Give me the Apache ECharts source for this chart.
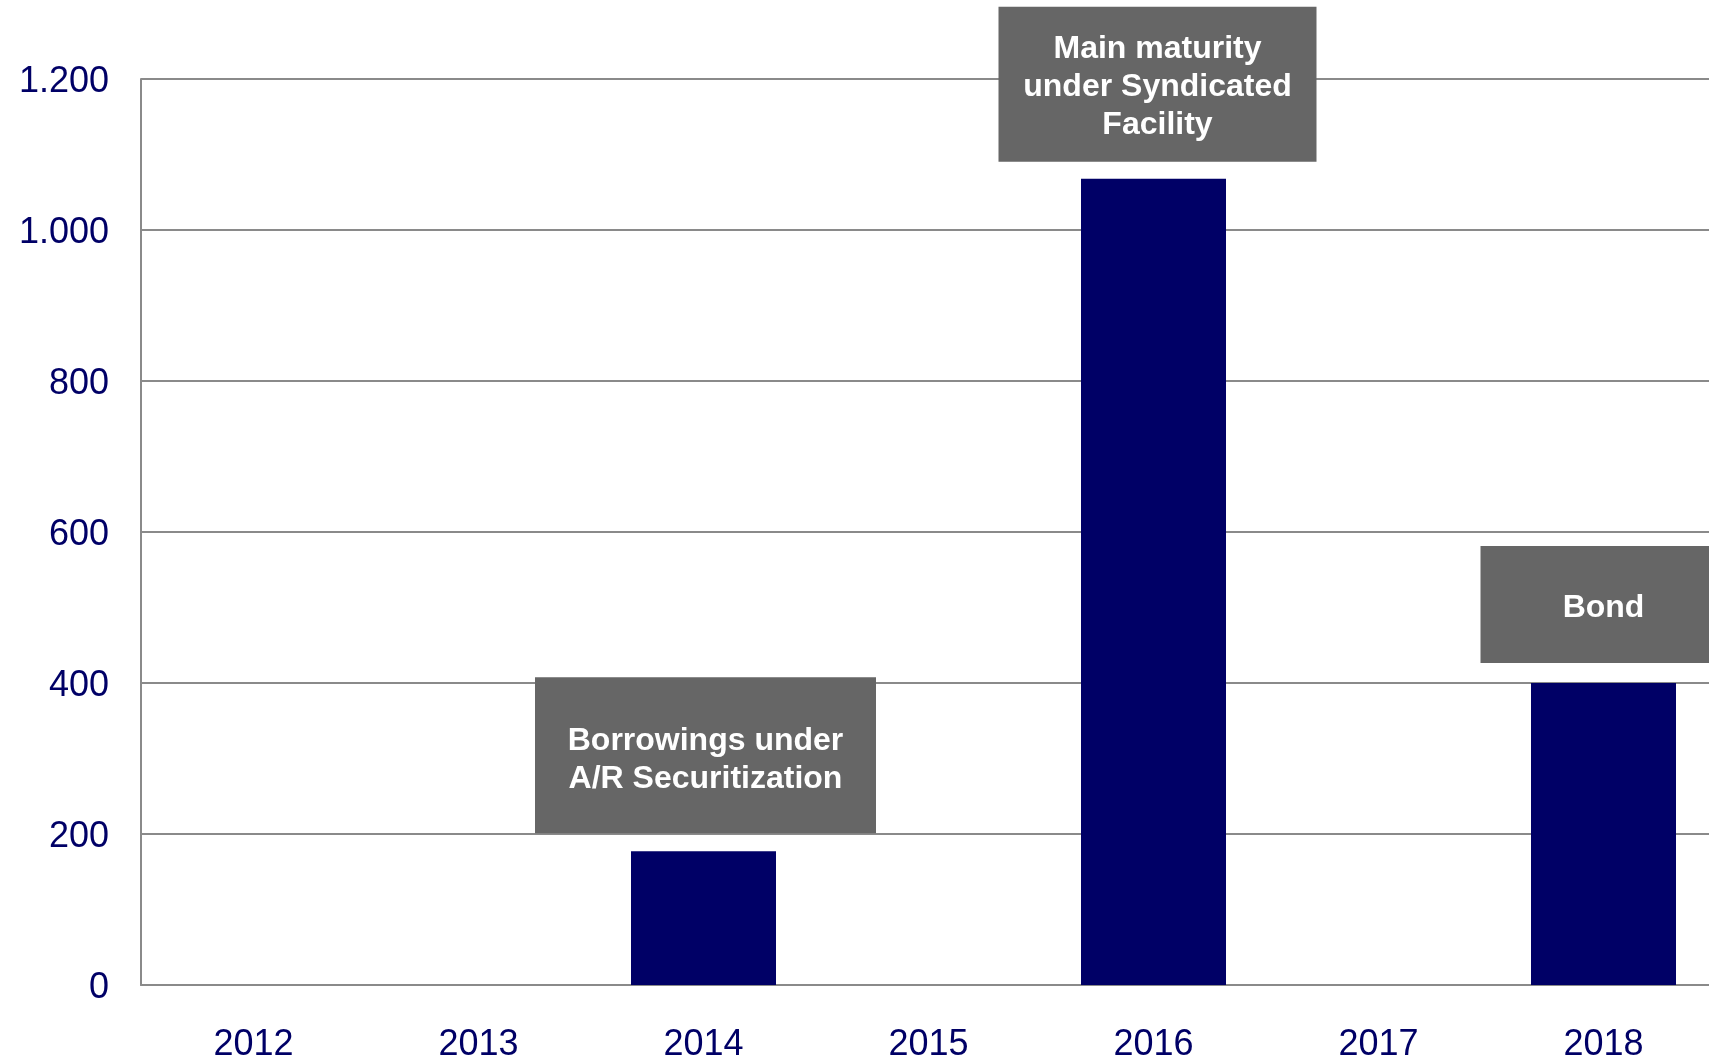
<!DOCTYPE html>
<html>
<head>
<meta charset="utf-8">
<title>Maturities</title>
<script src="https://cdn.jsdelivr.net/npm/echarts@6/dist/echarts.min.js"></script>
<style>
  html, body { margin: 0; padding: 0; background: #ffffff; overflow: hidden; }
  #maturity-chart { width: 1709px; height: 1059px; }
</style>
</head>
<body>
<div id="maturity-chart"></div>
<script>
// data
var years = ['2012', '2013', '2014', '2015', '2016', '2017', '2018'];
var maturities = [null, null, 177, null, 1068, null, 400];
var notes = [null, null, 'Borrowings under\nA/R Securitization', null, 'Main maturity\nunder Syndicated\nFacility', null, 'Bond'];
var yTicks = [0, 200, 400, 600, 800, 1000, 1200];

// grey note boxes above the bars
var boxStyle = {
  2: { width: 341, padding: [45, 0, 35, 0], distance: 18, offset: [2, 0] },
  4: { width: 318, padding: [24, 0, 17, 0], distance: 17, offset: [4, 0] },
  6: { width: 246, padding: [43, 0, 36, 0], distance: 20, offset: [0, 0] }
};

var barData = maturities.map(function (v, i) {
  var item = { value: v };
  if (notes[i]) {
    var b = boxStyle[i];
    item.label = {
      show: true,
      position: 'top',
      distance: b.distance,
      offset: b.offset,
      formatter: notes[i],
      width: b.width,
      padding: b.padding,
      align: 'center',
      backgroundColor: '#666666',
      color: '#ffffff',
      fontFamily: 'Liberation Sans, Arial, sans-serif',
      fontWeight: 'bold',
      fontSize: 32,
      lineHeight: 38
    };
  }
  return item;
});

function fmtThousands(v) {
  return String(v).replace(/\B(?=(\d{3})+(?!\d))/g, '.');
}

var chart = echarts.init(document.getElementById('maturity-chart'));
chart.setOption({
  animation: false,
  grid: {
    left: 141,
    right: -7,
    top: 79,
    bottom: 74,
    outerBoundsMode: 'none'
  },
  xAxis: {
    type: 'category',
    data: years,
    boundaryGap: true,
    axisLine: { lineStyle: { color: '#8a8a8a', width: 2 } },
    axisTick: { show: false },
    axisLabel: {
      color: '#000066',
      fontFamily: 'Liberation Sans, Arial, sans-serif',
      fontSize: 36,
      margin: 42
    }
  },
  yAxis: {
    type: 'value',
    min: yTicks[0],
    max: yTicks[yTicks.length - 1],
    interval: 200,
    axisLine: { show: true, lineStyle: { color: '#8a8a8a', width: 2 } },
    axisTick: { show: false },
    splitLine: { lineStyle: { color: '#8a8a8a', width: 2 } },
    axisLabel: {
      color: '#000066',
      fontFamily: 'Liberation Sans, Arial, sans-serif',
      fontSize: 36,
      margin: 32,
      verticalAlign: 'top',
      lineHeight: 6,
      formatter: fmtThousands
    }
  },
  series: [
    {
      type: 'bar',
      data: barData,
      barWidth: 145,
      itemStyle: { color: '#000066' }
    }
  ]
});
</script>
</body>
</html>
